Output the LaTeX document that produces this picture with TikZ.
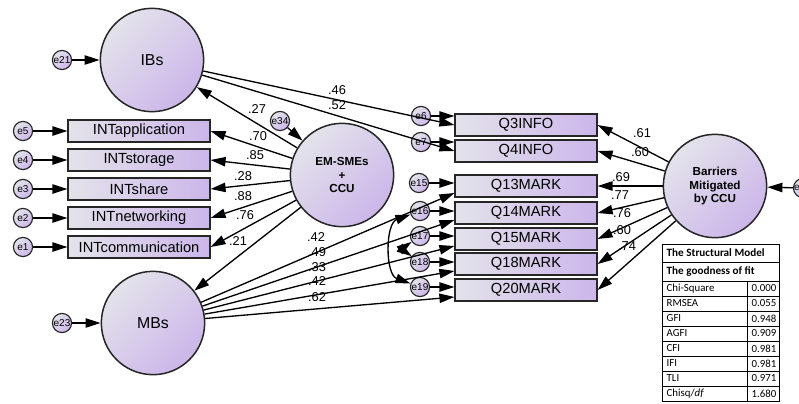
\documentclass[tikz,border=0pt]{standalone}
\usepackage{fontspec}
\setmainfont{Liberation Sans}
\newfontfamily\tabfont{Carlito}
\usetikzlibrary{arrows.meta}
\usetikzlibrary{calc,positioning}
\definecolor{lightend}{HTML}{E3E3EA}
\definecolor{purpend}{HTML}{CCB6EA}
\definecolor{edgegray}{HTML}{262626}
\tikzset{
	latent/.style={circle, draw=edgegray, line width=0.9pt, minimum size=62pt, inner sep=0pt, top color=lightend, bottom color=purpend, shading angle=45, font=\fontsize{9.5}{10}\selectfont},
	latentb/.style={latent, align=center, font=\bfseries\fontsize{7}{8}\selectfont},
	observed/.style={rectangle, draw=edgegray, line width=0.9pt, minimum width=85pt, minimum height=13pt, inner sep=0pt, left color=lightend, right color=purpend, font=\fontsize{8.8}{10}\selectfont},
	err/.style={circle, draw=edgegray, line width=0.7pt, minimum size=11.5pt, inner sep=0pt, top color=lightend, bottom color=purpend, shading angle=45, font=\fontsize{6}{6}\selectfont},
	coef/.style={inner sep=0pt, font=\fontsize{7.7}{8}\selectfont},
	cell/.style={anchor=west, inner sep=0pt, font=\tabfont\fontsize{6.5}{7}\selectfont},
	cellb/.style={cell, font=\tabfont\bfseries\fontsize{6.7}{7}\selectfont},
}
\begin{document}
\begin{tikzpicture}[x=0.6pt, y=-0.6pt, line width=0.8pt, >={Triangle[length=9pt,width=5.6pt]}]
	\useasboundingbox (0, 0) rectangle (799, 403);
	\node [latent] (0) at (152, 60) {IBs};
	\node [latentb] (1) at (342, 175) {EM-SMEs\\+\\CCU};
	\node [latent] (2) at (153, 323) {MBs};
	\node [latentb] (3) at (715, 186) {Barriers\\Mitigated\\by CCU};
	\node [err] (4) at (62, 60) {e21};
	\node [err] (5) at (280, 121) {e34};
	\node [err] (6) at (62, 323) {e23};
	\node [err] (7) at (803, 188) {};
	\node [inner sep=0pt, font=\fontsize{6}{6}\selectfont] (53) at (797, 188) {e};
	\node [observed] (8) at (139, 131) {INTapplication};
	\node [observed] (9) at (139, 160) {INTstorage};
	\node [observed] (10) at (139, 189) {INTshare};
	\node [observed] (11) at (139, 218) {INTnetworking};
	\node [observed] (12) at (139, 247) {INTcommunication};
	\node [err] (13) at (23, 131) {e5};
	\node [err] (14) at (23, 160) {e4};
	\node [err] (15) at (23, 189) {e3};
	\node [err] (16) at (23, 218) {e2};
	\node [err] (17) at (23, 247) {e1};
	\node [observed] (18) at (526, 125) {Q3INFO};
	\node [observed] (19) at (526, 151) {Q4INFO};
	\node [observed] (20) at (526, 186) {Q13MARK};
	\node [observed] (21) at (526, 213) {Q14MARK};
	\node [observed] (22) at (526, 239) {Q15MARK};
	\node [observed] (23) at (526, 264) {Q18MARK};
	\node [observed] (24) at (526, 290) {Q20MARK};
	\node [err] (25) at (421, 116) {e6};
	\node [err] (26) at (421, 142) {e7};
	\node [err] (27) at (419, 183) {e15};
	\node [err] (28) at (420, 211) {e16};
	\node [err] (29) at (420, 236) {e17};
	\node [err] (30) at (420, 262) {e18};
	\node [err] (31) at (420, 287) {e19};
	\node [coef] (32) at (257, 109) {.27};
	\node [coef] (33) at (258, 136) {.70};
	\node [coef] (34) at (255, 155) {.85};
	\node [coef] (35) at (243, 176) {.28};
	\node [coef] (36) at (243, 196) {.88};
	\node [coef] (37) at (245, 215) {.76};
	\node [coef] (38) at (238, 241) {.21};
	\node [coef] (39) at (337, 90) {.46};
	\node [coef] (40) at (337, 105) {.52};
	\node [coef] (41) at (316, 237) {.42};
	\node [coef] (42) at (317, 252) {.49};
	\node [coef] (43) at (317, 267) {.33};
	\node [coef] (44) at (317, 281) {.42};
	\node [coef] (45) at (317, 297) {.62};
	\node [coef] (46) at (642, 133) {.61};
	\node [coef] (47) at (640, 152) {.60};
	\node [coef] (48) at (621, 177) {.69};
	\node [coef] (49) at (620, 195) {.77};
	\node [coef] (50) at (622, 213) {.76};
	\node [coef] (51) at (622, 230) {.60};
	\node [coef] (52) at (627, 246) {.74};
	\draw [->] (4) to (0);
	\draw [->] (6) to (2);
	\draw [->] (5) to (1);
	\draw [->] (7) to (3);
	\draw [->] (13) to (8);
	\draw [->] (14) to (9);
	\draw [->] (15) to (10);
	\draw [->] (16) to (11);
	\draw [->] (17) to (12);
	\draw [->] (1) to (0);
	\draw [->] (1) to (8.east);
	\draw [->] (1) to (9.east);
	\draw [->] (1) to (10.east);
	\draw [->] (1) to (11.east);
	\draw [->] (1) to (12.east);
	\draw [->] (1) to (2);
	\draw [->] (0) to (18.west);
	\draw [->] (0) to (19.west);
	\draw [->] (2) to ($(20.west)+(0, 7)$);
	\draw [->] (2) to ($(21.west)+(0, 7)$);
	\draw [->] (2) to ($(22.west)+(0, 7)$);
	\draw [->] (2) to ($(23.west)+(0, 7)$);
	\draw [->] (2) to ($(24.west)+(0, 7)$);
	\draw [->] (25) to (25 -| 18.west);
	\draw [->] (26) to (26 -| 19.west);
	\draw [->] (27) to (27 -| 20.west);
	\draw [->] (28) to (28 -| 21.west);
	\draw [->] (29) to (29 -| 22.west);
	\draw [->] (30) to (30 -| 23.west);
	\draw [->] (31) to (31 -| 24.west);
	\draw [->] (3) to (18.east);
	\draw [->] (3) to (19.east);
	\draw [->] (3) to (20.east);
	\draw [->] (3) to (21.east);
	\draw [->] (3) to (22.east);
	\draw [->] (3) to (23.east);
	\draw [->] (3) to (24.east);
	\draw [<->] (28) to [out=200, in=160] (31);
	\draw [<->] (29) to [out=215, in=145, looseness=1.6] (30);
	\draw [fill=white, line width=0.5pt] (662, 244) rectangle (779, 401);
	\foreach \y in {262, 281, 296, 311, 326, 341, 356, 371, 386}
		\draw [line width=0.5pt] (662, \y) -- (779, \y);
	\draw [line width=0.5pt] (747, 281) -- (747, 401);
	\node [cellb] (54) at (666, 253) {The Structural Model};
	\node [cellb] (55) at (666, 271.5) {The goodness of fit};
	\node [cell] (56) at (666, 288.5) {Chi-Square};
	\node [cell] (57) at (666, 303.5) {RMSEA};
	\node [cell] (58) at (666, 318.5) {GFI};
	\node [cell] (59) at (666, 333.5) {AGFI};
	\node [cell] (60) at (666, 348.5) {CFI};
	\node [cell] (61) at (666, 363.5) {IFI};
	\node [cell] (62) at (666, 378.5) {TLI};
	\node [cell] (63) at (666, 393.5) {Chisq/\textit{df}};
	\node [cell] (64) at (751, 288.5) {0.000};
	\node [cell] (65) at (751, 303.5) {0.055};
	\node [cell] (66) at (751, 318.5) {0.948};
	\node [cell] (67) at (751, 333.5) {0.909};
	\node [cell] (68) at (751, 348.5) {0.981};
	\node [cell] (69) at (751, 363.5) {0.981};
	\node [cell] (70) at (751, 378.5) {0.971};
	\node [cell] (71) at (751, 393.5) {1.680};
\end{tikzpicture}
\end{document}
